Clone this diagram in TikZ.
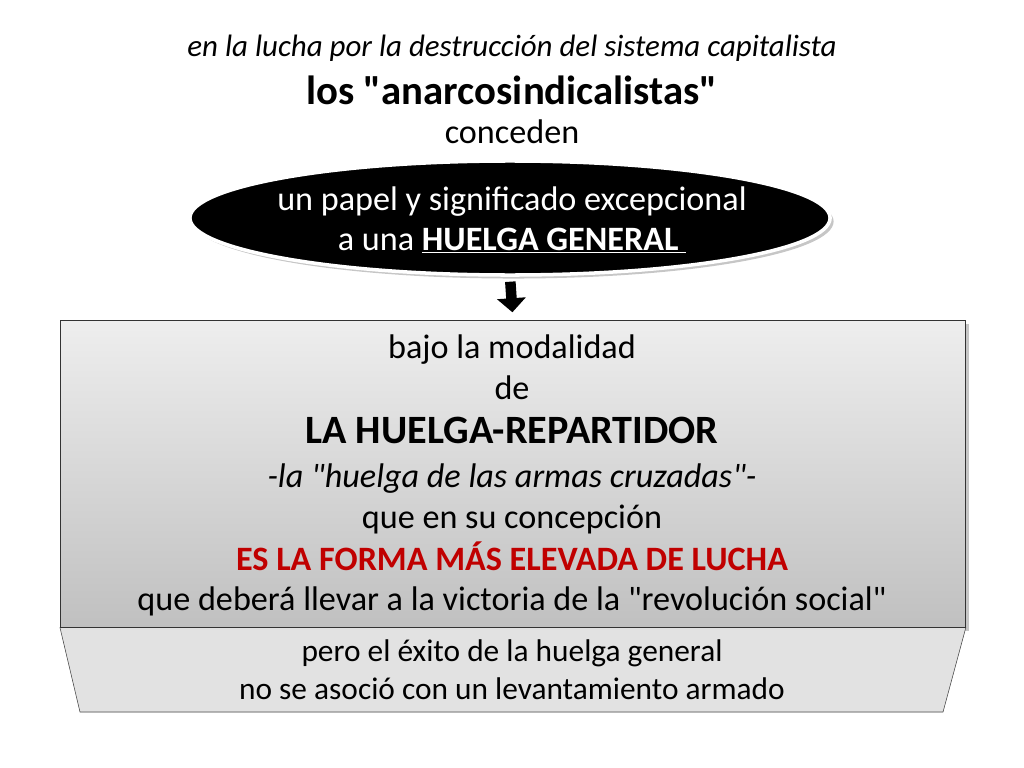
\documentclass[tikz,border=0pt]{standalone}
\usepackage{fontspec}
\setmainfont{Carlito}
\usetikzlibrary{shapes.geometric,shadows,arrows.meta}
\definecolor{redtext}{RGB}{192,0,0}
\definecolor{boxtop}{RGB}{238,238,238}
\definecolor{boxbot}{RGB}{192,192,192}
\definecolor{trapfill}{RGB}{226,226,226}
\newcommand\qq{\textquotedbl}
\begin{document}
\begin{tikzpicture}
[
  x=0.025cm, y=-0.025cm,
  every node/.style={inner sep=0pt, anchor=base},
  txt/.style={font=\fontsize{24.3}{29}\selectfont},
  small/.style={font=\fontsize{22.3}{27}\selectfont},
  big/.style={font=\fontsize{28.6}{34}\selectfont\bfseries},
  shade/.style={drop shadow={shadow xshift=2.5pt, shadow yshift=-2.5pt, opacity=0.45}},
]
\useasboundingbox (0,0) rectangle (1024,768);

% title lines
\node (t1) at (512,57) {\fontsize{22}{26}\selectfont\itshape en la lucha por la destrucción del sistema capitalista};
\node (t2) at (512,105) {\fontsize{29}{34}\selectfont\bfseries los \qq anarcosindicalistas\qq};
\node[txt] (t3) at (512,144) {conceden};

% ellipse
\node[ellipse, anchor=center, fill=black, draw=white, line width=2.5pt, shade,
      minimum width=16cm, minimum height=2.85cm] (ell) at (510,218) {};
\node[txt, text=white] (e1) at (512,210) {un papel y significado excepcional};
\node[txt, text=white] (e2) at (512,250) {a una \underline{\textbf{HUELGA GENERAL}\ }};

% lower trapezium and box
\node[anchor=north west, minimum width=22.625cm, minimum height=7.675cm,
      draw=black!80, thin, top color=boxtop, bottom color=boxbot, shade] (box) at (60,320) {};
\coordinate (trapl) at (80,712);
\coordinate (trapr) at (943,712);
\fill[black!35, shift={(2.5pt,-2.5pt)}] (box.south west) -- (box.south east) -- (trapr) -- (trapl) -- cycle;
\filldraw[fill=trapfill, draw=black!70, thin] (box.south west) -- (box.south east) -- (trapr) -- (trapl) -- cycle;
\draw[draw=black!80, thin] (box.south west) -- (box.south east);

% arrow
\draw[white, line width=11pt, -{Triangle[width=25pt, length=12.5pt]}, shorten <=2.5pt, shorten >=4pt] (ell.south) -- (box.north);
\draw[black, line width=7.5pt, -{Triangle[width=20pt, length=10pt]}, shorten <=3.5pt, shorten >=5.5pt] (ell.south) -- (box.north);

% box text
\node[txt] (b1) at (512,358) {bajo la modalidad};
\node[txt] (b2) at (512,399) {de};
\node[big] (b3) at (512,443) {LA HUELGA-REPARTIDOR};
\node[txt] (b4) at (512,487) {\itshape -la \qq huelga de las armas cruzadas\qq-};
\node[txt] (b5) at (512,528) {que en su concepción};
\node[txt, text=redtext] (b6) at (512,570) {\bfseries ES LA FORMA MÁS ELEVADA DE LUCHA};
\node[txt] (b7) at (512,610) {que deberá llevar a la victoria de la \qq revolución social\qq};

% trapezium text
\node[small] (p1) at (512,661) {pero el éxito de la huelga general};
\node[small] (p2) at (512,699) {no se asoció con un levantamiento armado};

\end{tikzpicture}
\end{document}
